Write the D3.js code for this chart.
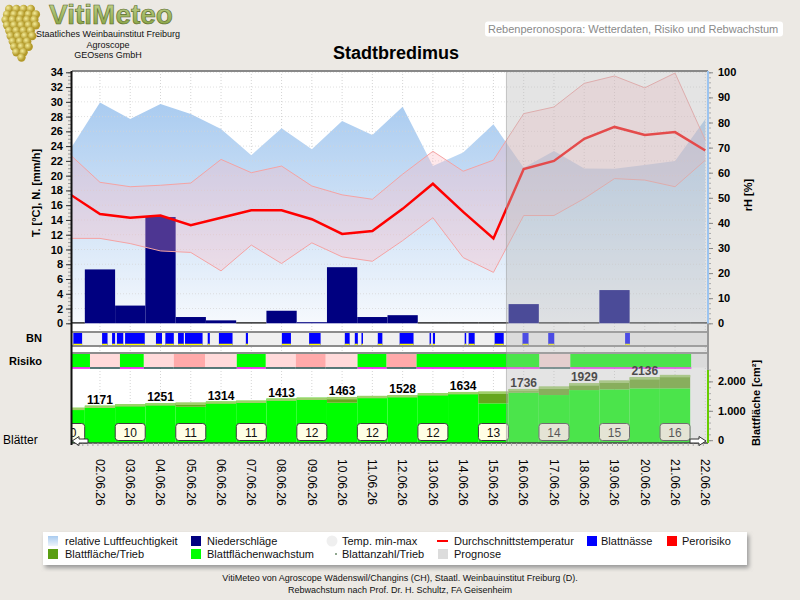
<!DOCTYPE html>
<html>
<head>
<meta charset="utf-8">
<script src="https://cdn.jsdelivr.net/npm/d3@7"></script>
<style>
  body { margin: 0; background: #ece9e4; }
  svg { display: block; font-family: "Liberation Sans", Arial, sans-serif; }
</style>
</head>
<body>
<svg id="chart" width="800" height="600"></svg>
<script>
// ---- data ----
const dates = ['01.06.26', '02.06.26', '03.06.26', '04.06.26', '05.06.26', '06.06.26', '07.06.26', '08.06.26',
  '09.06.26', '10.06.26', '11.06.26', '12.06.26', '13.06.26', '14.06.26', '15.06.26', '16.06.26', '17.06.26',
  '18.06.26', '19.06.26', '20.06.26', '21.06.26', '22.06.26'];
const dayNumbers = [1, 2, 3, 4, 5, 6, 7, 8, 9, 10, 11, 12, 13, 14, 15, 16, 17, 18, 19, 20, 21, 22];
const humidity = [69.0, 88.0, 81.4, 87.4, 83.4, 77.4, 67.0, 77.7, 69.3, 80.6, 75.0, 86.3, 62.7, 68.0, 79.3,
  62.0, 68.6, 61.7, 61.6, 63.1, 64.7, 81.3];
const tempMean = [17.5, 14.8, 14.3, 14.6, 13.3, 14.3, 15.3, 15.3, 14.1, 12.1, 12.5, 15.5, 18.9, 15.1, 11.5,
  20.9, 22.0, 25.0, 26.6, 25.5, 25.9, 23.4];
const tempMax = [22.9, 19.1, 18.5, 18.7, 19.0, 22.2, 20.4, 21.3, 18.6, 17.4, 16.8, 20.2, 23.3, 20.6, 22.1,
  28.4, 29.3, 32.5, 33.5, 31.9, 33.9, 24.8];
const tempMin = [11.5, 11.5, 10.8, 9.8, 9.6, 7.1, 10.6, 8.1, 10.9, 9.0, 8.4, 11.2, 14.3, 8.9, 6.9,
  14.6, 14.6, 16.9, 19.6, 19.4, 18.5, 22.1];
const precipitation = [0, 7.3, 2.4, 14.4, 0.85, 0.4, 0, 1.7, 0.15, 7.6, 0.85, 1.1, 0, 0, 0,
  2.6, 0, 0, 4.5, 0, 0, 0];

// leaf wetness periods (day units)
const wetFrom = [1.12, 2.07, 2.40, 2.56, 2.83, 3.85, 4.16, 4.58, 4.81, 5.56, 5.93, 6.82, 8.01, 8.91, 10.09,
  10.42, 10.64, 11.18, 11.90, 12.89, 13.00, 14.05, 14.18, 15.04, 15.96, 16.81, 19.35];
const wetTo = [1.41, 2.25, 2.50, 2.77, 3.48, 4.05, 4.44, 4.77, 5.39, 5.63, 6.38, 6.89, 8.31, 9.29, 10.25,
  10.52, 10.69, 11.33, 12.36, 12.94, 13.07, 14.10, 14.38, 15.34, 16.16, 17.01, 19.51];

// risk periods: 0 = none, 1 = low, 2 = medium
const riskBreaks = [1.0, 1.67, 2.66, 3.45, 4.44, 5.47, 6.52, 7.48, 8.47, 9.46, 10.51, 11.47, 12.46, 16.52, 17.54, 21.54];
const riskLevels = [0, 1, 0, 1, 2, 1, 0, 1, 2, 1, 0, 2, 0, 1, 0];

// leaf area per shoot [cm2] and the level of the green growth area
const leafArea = [1100, 1171, 1220, 1251, 1274, 1314, 1342, 1413, 1444, 1463, 1502, 1528, 1594, 1634, 1648,
  1736, 1818, 1929, 2022, 2136, 2215];
const leafBase = [1100, 1171, 1220, 1251, 1138, 1314, 1342, 1413, 1444, 1274, 1502, 1528, 1594, 1634, 1254,
  1618, 1536, 1705, 1730, 1764, 1764];
const leafCountDays = [1, 3, 5, 7, 9, 11, 13, 15, 17, 19, 21];
const leafCounts = [10, 10, 11, 11, 12, 12, 12, 13, 14, 15, 16];

const forecastFrom = 15.43;
const tempTicks = [0, 2, 4, 6, 8, 10, 12, 14, 16, 18, 20, 22, 24, 26, 28, 30, 32, 34];
const rhTicks = [0, 10, 20, 30, 40, 50, 60, 70, 80, 90, 100];
const areaTicks = [0, 1000, 2000];

const legendRow1 = ['relative Luftfeuchtigkeit', 'Niederschläge', 'Temp. min-max', 'Durchschnittstemperatur', 'Blattnässe', 'Perorisiko'];
const legendRow2 = ['Blattfläche/Trieb', 'Blattflächenwachstum', 'Blattanzahl/Trieb', 'Prognose'];

// ---- layout ----
const svg = d3.select('#chart');
const L = 72, R = 708, T = 71, B = 443;
const x = d3.scaleLinear().domain([1, 22]).range([69.7, 705.3]);
const yT = d3.scaleLinear().domain([0, 34]).range([323.3, 72.3]);
const yH = d3.scaleLinear().domain([0, 100]).range([323.3, 72.3]);
const yA = d3.scaleLinear().domain([0, 2000]).range([440.2, 381.4]);
const dayW = x(2) - x(1);
const de = d3.formatLocale({decimal: ',', thousands: '.', grouping: [3], currency: ['', '']});

const rows = dayNumbers.map((d, i) => ({
  day: d, rh: humidity[i], mean: tempMean[i], max: tempMax[i], min: tempMin[i], rain: precipitation[i]
}));

svg.append('rect').attr('width', 800).attr('height', 600).attr('fill', '#ece9e4');

const defs = svg.append('defs');
defs.append('clipPath').attr('id', 'plotClip')
  .append('rect').attr('x', L).attr('y', T).attr('width', R - L).attr('height', B - T);
const hg = defs.append('linearGradient').attr('id', 'humid')
  .attr('gradientUnits', 'userSpaceOnUse').attr('x1', 0).attr('x2', 0).attr('y1', yH(100)).attr('y2', yH(0));
hg.append('stop').attr('offset', 0).attr('stop-color', '#9fc5ee');
hg.append('stop').attr('offset', 1).attr('stop-color', '#f6f9fd');
const gg = defs.append('radialGradient').attr('id', 'grape').attr('cx', 0.35).attr('cy', 0.35);
gg.append('stop').attr('offset', 0).attr('stop-color', '#f4ec9a');
gg.append('stop').attr('offset', 1).attr('stop-color', '#b39a2a');
const vg = defs.append('linearGradient').attr('id', 'logoText').attr('x1', 0).attr('x2', 0).attr('y1', 0).attr('y2', 1);
vg.append('stop').attr('offset', 0).attr('stop-color', '#c9d99a');
vg.append('stop').attr('offset', 1).attr('stop-color', '#7f9c35');
const lg = defs.append('linearGradient').attr('id', 'legHumid').attr('x1', 0).attr('x2', 0).attr('y1', 0).attr('y2', 1);
lg.append('stop').attr('offset', 0).attr('stop-color', '#a9cbef');
lg.append('stop').attr('offset', 1).attr('stop-color', '#eef4fb');
defs.append('filter').attr('id', 'blur').append('feGaussianBlur').attr('stdDeviation', 2);

// ---- header ----
const logo = svg.append('g');
const grapeRows = [4, 5, 5, 5, 4, 4, 3, 3, 2, 1];
grapeRows.forEach((n, r) => {
  for (let k = 0; k < n; k++) {
    logo.append('circle')
      .attr('cx', 20 - (n - 1) * 3.6 + k * 7.2 + (r % 2) * 1.5)
      .attr('cy', 9 + r * 5.4)
      .attr('r', 4.2)
      .attr('fill', 'url(#grape)');
  }
});
logo.append('text').attr('x', 49).attr('y', 24).attr('font-size', 28).attr('font-weight', 'bold')
  .attr('fill', 'url(#logoText)').attr('stroke', '#55682a').attr('stroke-width', 0.6).text('VitiMeteo');
[['Staatliches Weinbauinstitut Freiburg', 37], ['Agroscope', 47.5], ['GEOsens GmbH', 58]].forEach(([t, yy]) => {
  logo.append('text').attr('x', 108).attr('y', yy).attr('text-anchor', 'middle')
    .attr('font-size', 9).attr('fill', '#111').text(t);
});

svg.append('rect').attr('x', 485).attr('y', 21.5).attr('width', 298).attr('height', 15).attr('rx', 3).attr('fill', '#fff');
svg.append('text').attr('x', 488).attr('y', 33).attr('font-size', 11).attr('fill', '#8a8a8a')
  .text('Rebenperonospora: Wetterdaten, Risiko und Rebwachstum');
svg.append('text').attr('x', 396).attr('y', 59).attr('text-anchor', 'middle')
  .attr('font-size', 18).attr('font-weight', 'bold').attr('fill', '#000').text('Stadtbredimus');

// ---- plot area ----
const plot = svg.append('g').attr('clip-path', 'url(#plotClip)');
plot.append('rect').attr('x', L).attr('y', T).attr('width', R - L).attr('height', B - T).attr('fill', '#fff');

// grid
plot.selectAll('.vgrid').data(dayNumbers.slice(1)).enter().append('line')
  .attr('x1', d => x(d)).attr('x2', d => x(d)).attr('y1', T).attr('y2', B)
  .attr('stroke', '#d4d4d4').attr('stroke-dasharray', '1,2');

// humidity
plot.append('path').datum(rows)
  .attr('d', d3.area().x(d => x(d.day)).y0(yH(0)).y1(d => yH(d.rh)))
  .attr('fill', 'url(#humid)');

plot.selectAll('.hgrid').data(tempTicks.slice(1)).enter().append('line')
  .attr('x1', L).attr('x2', R).attr('y1', d => yT(d)).attr('y2', d => yT(d))
  .attr('stroke', '#d4d4d4').attr('stroke-dasharray', '1,2').attr('opacity', 0.7);

// precipitation
plot.selectAll('.bar').data(rows).enter().append('rect')
  .attr('x', d => x(d.day) - dayW / 2)
  .attr('width', dayW)
  .attr('y', d => d.rain > 0 ? yT(d.rain) : yT(0) - 1)
  .attr('height', d => d.rain > 0 ? yT(0) - yT(d.rain) : 1.2)
  .attr('fill', d => d.rain > 0 ? '#000080' : '#000');

// temperature band
plot.append('path').datum(rows)
  .attr('d', d3.area().x(d => x(d.day)).y0(d => yT(d.min)).y1(d => yT(d.max)))
  .attr('fill', 'rgba(255,180,190,0.3)');
['max', 'min'].forEach(k => {
  plot.append('path').datum(rows)
    .attr('d', d3.line().x(d => x(d.day)).y(d => yT(d[k])))
    .attr('fill', 'none').attr('stroke', '#f5a3a3').attr('stroke-width', 1);
});
plot.append('path').datum(rows)
  .attr('d', d3.line().x(d => x(d.day)).y(d => yT(d.mean)))
  .attr('fill', 'none').attr('stroke', '#ff0000').attr('stroke-width', 2.5);

// leaf wetness strip
plot.append('rect').attr('x', L).attr('y', 332).attr('width', R - L).attr('height', 14).attr('fill', '#f0f0f0');
wetFrom.forEach((f, i) => {
  plot.append('rect').attr('x', x(f)).attr('width', x(wetTo[i]) - x(f)).attr('y', 333).attr('height', 12)
    .attr('fill', '#0000ff');
  plot.append('line').attr('x1', x(f)).attr('x2', x(wetTo[i])).attr('y1', 344.5).attr('y2', 344.5)
    .attr('stroke', '#ffff00').attr('stroke-width', 1.5);
});
[332, 346].forEach(yy => plot.append('line').attr('x1', L).attr('x2', R).attr('y1', yy).attr('y2', yy)
  .attr('stroke', '#8c8c8c').attr('stroke-width', 2));

// risk strip
const riskColor = ['#00ff00', '#ffdada', '#ffaaaa'];
riskLevels.forEach((lv, i) => {
  const x0 = x(riskBreaks[i]), x1 = x(riskBreaks[i + 1]);
  plot.append('rect').attr('x', x0).attr('width', x1 - x0).attr('y', 354).attr('height', 13.5).attr('fill', riskColor[lv]);
  plot.append('line').attr('x1', x0).attr('x2', x1).attr('y1', 368).attr('y2', 368)
    .attr('stroke', lv === 0 ? '#ff00ff' : '#1f4f4f').attr('stroke-width', 1.5);
});
plot.append('rect').attr('x', x(riskBreaks[riskBreaks.length - 1])).attr('y', 354)
  .attr('width', R - x(riskBreaks[riskBreaks.length - 1])).attr('height', 13.5).attr('fill', '#f0f0f0');
plot.append('line').attr('x1', L).attr('x2', R).attr('y1', 353).attr('y2', 353)
  .attr('stroke', '#8c8c8c').attr('stroke-width', 2);

// leaf area panel
leafArea.forEach((v, i) => {
  const d = dayNumbers[i];
  const x0 = x(d - 0.5), x1 = x(d + 0.5);
  plot.append('rect').attr('x', x0).attr('width', x1 - x0).attr('y', yA(leafBase[i]))
    .attr('height', yA(0) + 3 - yA(leafBase[i])).attr('fill', '#00ff00');
  if (leafBase[i] < v) {
    plot.append('rect').attr('x', x0).attr('width', x1 - x0).attr('y', yA(v))
      .attr('height', yA(leafBase[i]) - yA(v)).attr('fill', '#66a61e');
  }
  plot.append('line').attr('x1', x0).attr('x2', x1).attr('y1', yA(v) + 1).attr('y2', yA(v) + 1)
    .attr('stroke', '#9fcf6a').attr('stroke-width', 2.5);
  if (d % 2 === 0) {
    plot.append('text').attr('x', x(d)).attr('y', yA(v) - 2).attr('text-anchor', 'middle')
      .attr('font-size', 12).attr('font-weight', 'bold').attr('fill', '#000').text(v);
  }
});
leafCountDays.forEach((d, i) => {
  plot.append('rect').attr('x', x(d) - 15).attr('y', 423.5).attr('width', 30).attr('height', 17).attr('rx', 3)
    .attr('fill', '#ffffe6').attr('stroke', '#3c3c3c');
  plot.append('text').attr('x', x(d)).attr('y', 436.5).attr('text-anchor', 'middle')
    .attr('font-size', 12).attr('fill', '#111').text(leafCounts[i]);
});

// forecast overlay
plot.append('rect').attr('x', x(forecastFrom)).attr('y', T).attr('width', R - x(forecastFrom)).attr('height', B - T)
  .attr('fill', 'rgba(188,188,188,0.4)');
plot.append('line').attr('x1', x(forecastFrom)).attr('x2', x(forecastFrom)).attr('y1', T).attr('y2', B)
  .attr('stroke', 'rgba(150,150,150,0.5)');

// ---- frames and axes ----
svg.append('line').attr('x1', L).attr('x2', R).attr('y1', T).attr('y2', T).attr('stroke', '#888').attr('stroke-width', 2);
svg.append('line').attr('x1', R).attr('x2', R).attr('y1', 323).attr('y2', 370).attr('stroke', '#999').attr('stroke-width', 2);
svg.append('line').attr('x1', L).attr('x2', R).attr('y1', B).attr('y2', B).attr('stroke', '#444').attr('stroke-width', 1.5);

const axL = svg.append('g').attr('transform', `translate(${L - 1},0)`);
axL.call(d3.axisLeft(yT).tickValues(d3.range(0, 34.01, 0.5)).tickSize(3).tickFormat('').tickSizeOuter(0));
axL.selectAll('line').attr('stroke', '#999');
const axL2 = svg.append('g').attr('transform', `translate(${L - 1},0)`);
axL2.call(d3.axisLeft(yT).tickValues(tempTicks).tickSize(5).tickPadding(3).tickSizeOuter(0));
axL2.selectAll('line').attr('stroke', '#333');
[axL, axL2].forEach(a => a.select('.domain').remove());
axL2.selectAll('text').attr('font-size', 11).attr('font-weight', 'bold').attr('fill', '#000')
  .attr('font-family', '"Liberation Sans", Arial, sans-serif');
svg.append('line').attr('x1', L - 0.5).attr('x2', L - 0.5).attr('y1', T).attr('y2', B + 2).attr('stroke', '#111').attr('stroke-width', 2);

const axR = svg.append('g').attr('transform', `translate(${R},0)`);
axR.call(d3.axisRight(yH).tickValues(d3.range(0, 100.1, 2)).tickSize(3).tickFormat('').tickSizeOuter(0));
axR.selectAll('line').attr('stroke', '#aaa');
const axR2 = svg.append('g').attr('transform', `translate(${R},0)`);
axR2.call(d3.axisRight(yH).tickValues(rhTicks).tickSize(5).tickPadding(5).tickSizeOuter(0));
axR2.selectAll('line').attr('stroke', '#888');
[axR, axR2].forEach(a => a.select('.domain').remove());
axR2.selectAll('text').attr('font-size', 11).attr('font-weight', 'bold').attr('fill', '#000')
  .attr('font-family', '"Liberation Sans", Arial, sans-serif');
svg.append('line').attr('x1', R).attr('x2', R).attr('y1', T).attr('y2', 323.5).attr('stroke', '#9cc4f0').attr('stroke-width', 2);

const axA = svg.append('g').attr('transform', `translate(${R},0)`);
axA.call(d3.axisRight(yA).tickValues(d3.range(0, 2401, 200)).tickSize(3).tickFormat('').tickSizeOuter(0));
axA.selectAll('line').attr('stroke', '#aaa');
const axA2 = svg.append('g').attr('transform', `translate(${R},0)`);
axA2.call(d3.axisRight(yA).tickValues(areaTicks).tickSize(5).tickPadding(5).tickSizeOuter(0).tickFormat(de.format(',')));
axA2.selectAll('line').attr('stroke', '#888');
[axA, axA2].forEach(a => a.select('.domain').remove());
axA2.selectAll('text').attr('font-size', 11).attr('font-weight', 'bold').attr('fill', '#000')
  .attr('font-family', '"Liberation Sans", Arial, sans-serif');
svg.append('line').attr('x1', R).attr('x2', R).attr('y1', 370).attr('y2', B).attr('stroke', '#66cc00').attr('stroke-width', 2);

// bottom time axis
const axB = svg.append('g').attr('transform', `translate(0,${B})`);
axB.call(d3.axisBottom(x).tickValues(d3.range(1.25, 22.01, 1 / 6).filter(v => x(v) > L && x(v) < R))
  .tickSize(3).tickFormat('').tickSizeOuter(0));
axB.selectAll('line').attr('stroke', '#aaa');
axB.select('.domain').remove();
svg.selectAll('.dateLabel').data(dayNumbers.filter(d => x(d) >= L)).enter().append('text')
  .attr('transform', d => `translate(${x(d)},459) rotate(90)`)
  .attr('dy', '0.35em').attr('font-size', 12).attr('fill', '#000')
  .text(d => dates[d - 1]);

// scroll arrows
svg.append('path').attr('d', 'M72,441 l7,-4.5 v2.5 h9 v4 h-9 v2.5 z')
  .attr('fill', '#fff').attr('stroke', '#333').attr('stroke-width', 1);
svg.append('path').attr('d', 'M706,441 l-7,-4.5 v2.5 h-9 v4 h9 v2.5 z')
  .attr('fill', '#fff').attr('stroke', '#333').attr('stroke-width', 1);

// axis titles and strip labels
svg.append('text').attr('transform', 'translate(40,193) rotate(-90)').attr('text-anchor', 'middle')
  .attr('font-size', 11).attr('font-weight', 'bold').text('T. [°C], N. [mm/h]');
svg.append('text').attr('transform', 'translate(752,195) rotate(-90)').attr('text-anchor', 'middle')
  .attr('font-size', 11).attr('font-weight', 'bold').text('rH [%]');
svg.append('text').attr('transform', 'translate(760,403) rotate(-90)').attr('text-anchor', 'middle')
  .attr('font-size', 11).attr('font-weight', 'bold').text('Blattfläche [cm²]');
svg.append('text').attr('x', 42).attr('y', 342).attr('text-anchor', 'end')
  .attr('font-size', 11).attr('font-weight', 'bold').text('BN');
svg.append('text').attr('x', 42).attr('y', 365).attr('text-anchor', 'end')
  .attr('font-size', 11).attr('font-weight', 'bold').text('Risiko');
svg.append('text').attr('x', 3).attr('y', 444).attr('font-size', 12).text('Blätter');

// ---- legend ----
svg.append('rect').attr('x', 45).attr('y', 535).attr('width', 704).attr('height', 33).attr('fill', '#999')
  .attr('filter', 'url(#blur)');
svg.append('rect').attr('x', 43).attr('y', 532).attr('width', 704).attr('height', 33).attr('fill', '#fff');
const legX = [65, 207, 342, 454, 601, 682];
const legend = svg.append('g').attr('font-size', 11).attr('fill', '#111');
legendRow1.forEach((t, i) => legend.append('text').attr('x', legX[i]).attr('y', 545).text(t));
legendRow2.forEach((t, i) => legend.append('text').attr('x', legX[i]).attr('y', 558).text(t));
legend.append('rect').attr('x', 48).attr('y', 536).attr('width', 10).attr('height', 10).attr('fill', 'url(#legHumid)');
legend.append('rect').attr('x', 191).attr('y', 536).attr('width', 10).attr('height', 10).attr('fill', '#000080');
legend.append('circle').attr('cx', 332).attr('cy', 541).attr('r', 5.5).attr('fill', '#efefef');
legend.append('line').attr('x1', 437).attr('x2', 448).attr('y1', 541).attr('y2', 541).attr('stroke', '#ff0000').attr('stroke-width', 2);
legend.append('rect').attr('x', 587).attr('y', 536).attr('width', 10).attr('height', 10).attr('fill', '#0000ff');
legend.append('rect').attr('x', 667).attr('y', 536).attr('width', 10).attr('height', 10).attr('fill', '#ff0000');
legend.append('rect').attr('x', 48).attr('y', 549).attr('width', 10).attr('height', 10).attr('fill', '#5a9e12');
legend.append('rect').attr('x', 191).attr('y', 549).attr('width', 10).attr('height', 10).attr('fill', '#00ff00');
legend.append('circle').attr('cx', 336).attr('cy', 554).attr('r', 1).attr('fill', '#6a8a6a');
legend.append('rect').attr('x', 438).attr('y', 549).attr('width', 10).attr('height', 10).attr('fill', '#dcdcdc');

// ---- footer ----
svg.append('text').attr('x', 400).attr('y', 581).attr('text-anchor', 'middle').attr('font-size', 9).attr('fill', '#111')
  .text('VitiMeteo von Agroscope Wädenswil/Changins (CH), Staatl. Weinbauinstitut Freiburg (D).');
svg.append('text').attr('x', 400).attr('y', 593).attr('text-anchor', 'middle').attr('font-size', 9).attr('fill', '#111')
  .text('Rebwachstum nach Prof. Dr. H. Schultz, FA Geisenheim');
</script>
</body>
</html>
